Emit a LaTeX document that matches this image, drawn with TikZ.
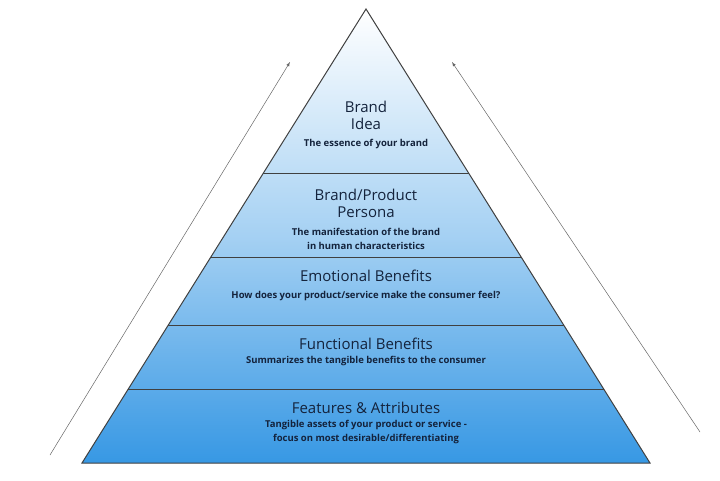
\documentclass[tikz,border=0pt]{standalone}
\usepackage{fontspec}
\setmainfont{Open Sans}
\begin{document}
\begin{tikzpicture}[x=1pt,y=-1pt,
  title/.style={font=\fontsize{15}{17}\selectfont, text=txt, align=center, inner sep=0},
  sub/.style={font=\fontsize{9.5}{14}\selectfont\bfseries, text=txt, align=center, inner sep=0},
  edge/.style={draw=black!75, line width=1pt},
  arr/.style={draw=black!60, line width=0.5pt, -latex}]
\definecolor{txt}{RGB}{20,35,60}
\definecolor{bl}{RGB}{55,152,228}
\useasboundingbox (0,0) rectangle (720,480);
\coordinate (apex) at (366,9);
\coordinate (bl0) at (82,463);
\coordinate (br0) at (650,463);
\shade[top color=white, bottom color=bl, middle color=bl!45] (apex) -- (br0) -- (bl0) -- cycle;
\foreach \y in {173,257,325,389}{
  \pgfmathsetmacro\dx{(\y-9)*0.62555}
  \draw[edge] ({366-\dx},\y) -- ({366+\dx},\y);
}
\draw[edge, line join=miter] (apex) -- (br0) -- (bl0) -- cycle;
\coordinate (la) at (50,455); \coordinate (lb) at (290,62);
\coordinate (ra) at (700,432); \coordinate (rb) at (452,62);
\draw[arr] (la) -- (lb);
\draw[arr] (ra) -- (rb);
\node[title] (t1) at (366,115) {Brand\\Idea};
\node[sub] (s1) at (366,144) {The essence of your brand};
\node[title] (t2) at (366,203) {Brand/Product\\Persona};
\node[sub] (s2) at (366,239) {The manifestation of the brand\\in human characteristics};
\node[title] (t3) at (366,276) {Emotional Benefits};
\node[sub] (s3) at (366,296) {How does your product/service make the consumer feel?};
\node[title] (t4) at (366,344) {Functional Benefits};
\node[sub] (s4) at (366,361) {Summarizes the tangible benefits to the consumer};
\node[title] (t5) at (366,408) {Features \& Attributes};
\node[sub] (s5) at (366,432) {Tangible assets of your product or service -\\focus on most desirable/differentiating};
\end{tikzpicture}
\end{document}
